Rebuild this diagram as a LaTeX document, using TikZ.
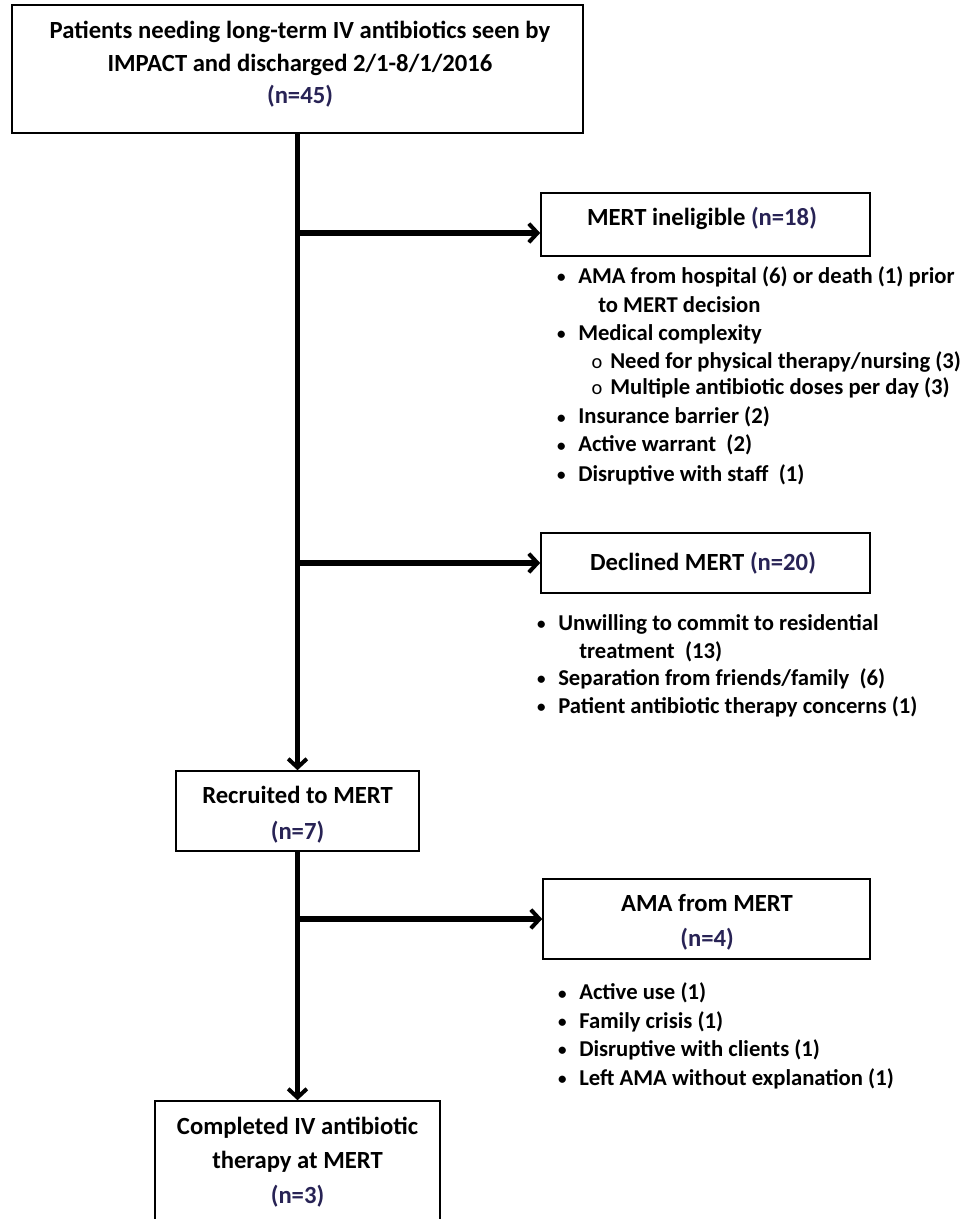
\documentclass[tikz,border=0pt]{standalone}
\usepackage{fontspec}
\setmainfont{Carlito}
\usetikzlibrary{arrows.meta,calc}
\definecolor{ncol}{RGB}{40,35,85}
\newcommand{\bfs}{\fontsize{18.5pt}{24.5pt}\selectfont\bfseries}
\newcommand{\lfs}{\fontsize{17pt}{20pt}\selectfont\bfseries}
\newcommand{\bul}{\llap{\raisebox{0.5pt}{\scalebox{0.75}{\textbullet}}\hspace{9.5pt}}}
\newcommand{\sub}{\llap{{\mdseries\scalebox{0.9}{o}}\hspace{6pt}}}
\tikzset{
  box/.style={draw=black, line width=1.2pt, rectangle, inner sep=0pt},
  boxtext/.style={inner sep=0pt, align=center, font=\bfs},
  lst/.style={inner sep=0pt, anchor=west, font=\lfs},
  flow/.style={line width=3.8pt, -{Straight Barb[length=6.5pt,width=14pt,line width=3pt]}}
}
\begin{document}
\begin{tikzpicture}[x=0.75pt,y=-0.75pt]
\useasboundingbox[fill=white] (0,0) rectangle (967,1219);

% boxes
\node[box, minimum width=571*0.75pt, minimum height=128*0.75pt] (b0) at (297.5,69) {};
\node[boxtext] (b0t) at (300,64.5) {Patients needing long-term IV antibiotics seen by\\IMPACT and discharged 2/1-8/1/2016\\{\color{ncol}(n=45)}};

\node[box, minimum width=329*0.75pt, minimum height=63*0.75pt] (b1) at (705.5,224.5) {};
\node[boxtext] (b1t) at (702,218) {MERT ineligible {\color{ncol}(n=18)}};

\node[box, minimum width=329*0.75pt, minimum height=60*0.75pt] (b2) at (705.5,563) {};
\node[boxtext] (b2t) at (703,563) {Declined MERT {\color{ncol}(n=20)}};

\node[box, minimum width=243*0.75pt, minimum height=80*0.75pt] (b3) at (297.5,811) {};
\node[boxtext, font=\fontsize{18.5pt}{27pt}\selectfont\bfseries] (b3t) at (297.5,815) {Recruited to MERT\\{\color{ncol}(n=7)}};

\node[box, minimum width=327*0.75pt, minimum height=80*0.75pt] (b4) at (706.5,919) {};
\node[boxtext, font=\fontsize{18.5pt}{26pt}\selectfont\bfseries] (b4t) at (707,922.5) {AMA from MERT\\{\color{ncol}(n=4)}};

\node[box, minimum width=285*0.75pt, minimum height=140*0.75pt] (b5) at (297.5,1171) {};
\node[boxtext, font=\fontsize{18.5pt}{26pt}\selectfont\bfseries] (b5t) at (297.5,1162) {Completed IV antibiotic\\therapy at MERT\\{\color{ncol}(n=3)}};

% connectors
\coordinate (j1) at (b0.south |- 0,233);
\coordinate (j2) at (b0.south |- b2.west);
\coordinate (j3) at (b3.south |- b4.west);
\draw[flow] (b0.south) -- (b3.north);
\draw[flow] (j1) -- (j1 -| b1.west);
\draw[flow] (j2) -- (b2.west);
\draw[flow] (b3.south) -- (b5.north);
\draw[flow] (j3) -- (b4.west);

% MERT ineligible list
\node[lst] (m1) at (578,277) {\bul AMA from hospital (6) or death (1) prior};
\node[lst] (m2) at (598,305) {to MERT decision};
\node[lst] (m3) at (578,334) {\bul Medical complexity};
\node[lst] (m4) at (610,362) {\sub Need for physical therapy/nursing (3)};
\node[lst] (m5) at (610,388) {\sub Multiple antibiotic doses per day (3)};
\node[lst] (m6) at (578,417) {\bul Insurance barrier (2)};
\node[lst] (m7) at (578,445) {\bul Active warrant\ \ (2)};
\node[lst] (m8) at (578,475) {\bul Disruptive with staff\ \ (1)};

% Declined list
\node[lst] (d1) at (558,624) {\bul Unwilling to commit to residential};
\node[lst] (d2) at (579,652) {treatment\ \ (13)};
\node[lst] (d3) at (558,679) {\bul Separation from friends/family\ \ (6)};
\node[lst] (d4) at (558,707) {\bul Patient antibiotic therapy concerns (1)};

% AMA list
\node[lst] (a1) at (579,993) {\bul Active use (1)};
\node[lst] (a2) at (579,1022) {\bul Family crisis (1)};
\node[lst] (a3) at (579,1050) {\bul Disruptive with clients (1)};
\node[lst] (a4) at (579,1079) {\bul Left AMA without explanation (1)};
\end{tikzpicture}
\end{document}
